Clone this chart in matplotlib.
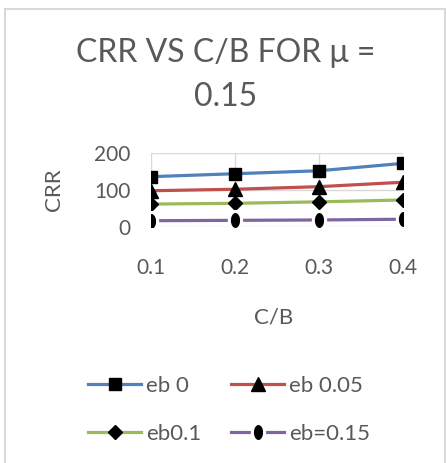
import matplotlib
matplotlib.use('Agg')
import matplotlib.pyplot as plt
import numpy as np
from matplotlib.patches import Rectangle

# C/B ratios and CRR for each eb value
cb = ['0.1', '0.2', '0.3', '0.4']
crr_eb0 = [136, 144, 152, 172]
crr_eb005 = [98, 102, 109, 121]
crr_eb01 = [62, 64, 68, 73]
crr_eb015 = [17, 18, 19, 21]
labels = ['eb 0', 'eb 0.05', 'eb0.1', 'eb=0.15']

TXT = '#595959'
GRID = '#d9d9d9'
plt.rcParams['font.family'] = ['Lato', 'DejaVu Sans']

# tall ellipse marker for the last series
t = np.linspace(0, 2*np.pi, 40)
ellipse = list(zip(0.68*np.cos(t), np.sin(t)))

fig = plt.figure(figsize=(4.46, 4.63), dpi=100)
ax = fig.add_axes([151/446, 1-227/463, 252/446, 74/463])

x = np.arange(len(cb))
l0, = ax.plot(x, crr_eb0, color='#4F81BD', lw=2.3, marker='s', ms=9, mfc='black', mec='black', zorder=3)
l1, = ax.plot(x, crr_eb005, color='#C0504D', lw=2.3, marker='^', ms=10, mfc='black', mec='black', zorder=3)
l2, = ax.plot(x, crr_eb01, color='#9BBB59', lw=2.3, marker='D', ms=7, mfc='black', mec='black', zorder=3)
l3, = ax.plot(x, crr_eb015, color='#8064A2', lw=2.3, marker=ellipse, ms=13, mfc='black', mec='white', mew=2.2, zorder=3)

ax.set_xlim(0, 3)
ax.set_ylim(0, 200)
ax.set_yticks([0, 100, 200])
ax.set_xticks(x)
ax.set_xticklabels(cb)
ax.grid(True, color=GRID, lw=1)
ax.set_axisbelow(True)
for s in ax.spines.values():
    s.set_visible(False)
ax.tick_params(length=0, labelsize=15, colors=TXT)
ax.tick_params(axis='x', pad=22)
ax.tick_params(axis='y', pad=15)

fig.text(54/446, 1-190/463, 'CRR', rotation=90, ha='center', va='center', fontsize=16, color=TXT)
fig.text(274/446, 1-317/463, 'C/B', ha='center', va='center', fontsize=16, color=TXT)
fig.text(226/446, 1-53/463, 'CRR VS C/B FOR \u03bc =', ha='center', va='center', fontsize=23, color=TXT)
fig.text(226/446, 1-97/463, '0.15', ha='center', va='center', fontsize=23, color=TXT)

# legend filled row by row (matplotlib fills columns first)
fig.legend([l0, l2, l1, l3], [labels[0], labels[2], labels[1], labels[3]],
           loc='center', bbox_to_anchor=(229/446, 1-410/463), ncol=2, frameon=False,
           fontsize=16, labelcolor=TXT, handlelength=2.4, handletextpad=0.2,
           columnspacing=1.35, labelspacing=1.25)

# chart border
fig.patches.append(Rectangle((5/446, -0.05), 440/446, 1.05-9/463, transform=fig.transFigure,
                             fill=False, edgecolor=GRID, lw=1.5))

fig.savefig('out.png', dpi=100)
